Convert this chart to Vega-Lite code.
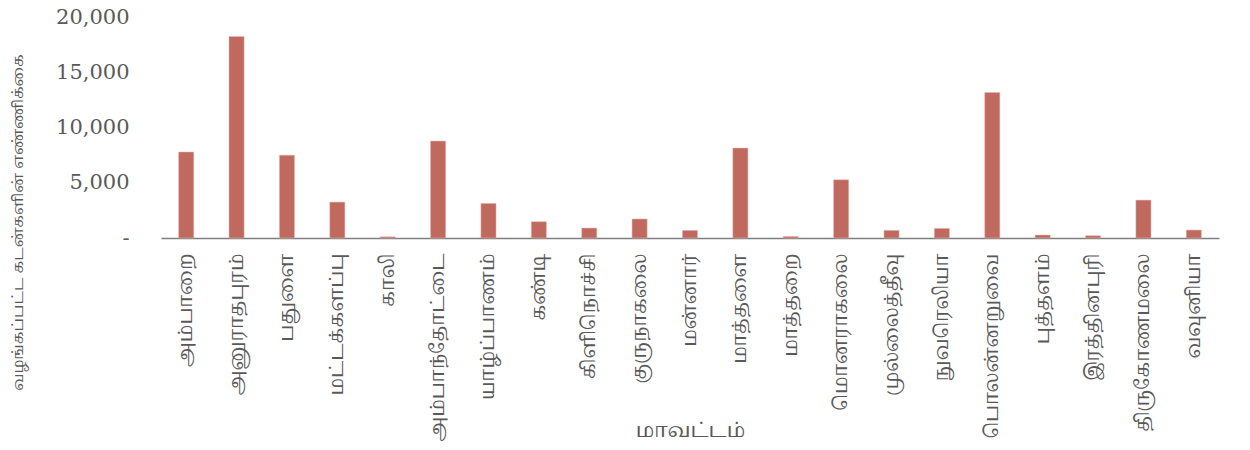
{
  "$schema": "https://vega.github.io/schema/vega-lite/v6.json",
  "autosize": "none",
  "width": 1058,
  "height": 221,
  "padding": {"left": 161, "top": 17, "right": 31, "bottom": 212},
  "background": "white",
  "config": {"view": {"stroke": null}},
  "data": {
    "values": [
      {"district": "அம்பாறை", "loans": 7780},
      {"district": "அனுராதபுரம்", "loans": 18230},
      {"district": "பதுளை", "loans": 7500},
      {"district": "மட்டக்களப்பு", "loans": 3250},
      {"district": "காலி", "loans": 110},
      {"district": "அம்பாந்தோட்டை", "loans": 8770},
      {"district": "யாழ்ப்பாணம்", "loans": 3130},
      {"district": "கண்டி", "loans": 1475},
      {"district": "கிளிநொச்சி", "loans": 900},
      {"district": "குருநாகலை", "loans": 1720},
      {"district": "மன்னார்", "loans": 690},
      {"district": "மாத்தளை", "loans": 8140},
      {"district": "மாத்தறை", "loans": 140},
      {"district": "மொனராகலை", "loans": 5270},
      {"district": "முல்லைத்தீவு", "loans": 690},
      {"district": "நுவரெலியா", "loans": 870},
      {"district": "பொலன்னறுவை", "loans": 13170},
      {"district": "புத்தளம்", "loans": 270},
      {"district": "இரத்தினபுரி", "loans": 210},
      {"district": "திருகோணமலை", "loans": 3430},
      {"district": "வவுனியா", "loans": 720}
    ]
  },
  "mark": {"type": "bar", "color": "#C0695F", "stroke": "#E8B8B2", "strokeWidth": 0.5},
  "encoding": {
    "x": {
      "field": "district",
      "type": "nominal",
      "sort": null,
      "scale": {"paddingInner": 0.7, "paddingOuter": 0.35},
      "axis": {
        "title": "மாவட்டம்",
        "titleFont": "Noto Serif Tamil, Noto Sans Tamil, Lohit Tamil, serif",
        "titleFontSize": 20,
        "titleFontWeight": "normal",
        "titleColor": "#595959",
        "titleY": 182,
        "labelAngle": -90,
        "labelAlign": "right",
        "labelBaseline": "middle",
        "labelPadding": 15,
        "labelFont": "Noto Serif Tamil, Noto Sans Tamil, Lohit Tamil, serif",
        "labelFontSize": 19,
        "labelColor": "#595959",
        "labelLimit": 0,
        "ticks": false,
        "domainColor": "#7F7F7F",
        "domainWidth": 1.5
      }
    },
    "y": {
      "field": "loans",
      "type": "quantitative",
      "scale": {"domain": [0, 20000], "nice": false},
      "axis": {
        "title": "வழங்கப்பட்ட  கடன்களின்  எண்ணிக்கை",
        "titleFont": "Noto Serif Tamil, Noto Sans Tamil, Lohit Tamil, serif",
        "titleFontSize": 15,
        "titleFontWeight": "normal",
        "titleColor": "#595959",
        "titleX": -136,
        "titleY": 205,
        "values": [0, 5000, 10000, 15000, 20000],
        "labelExpr": "datum.value == 0 ? '-\u00a0\u00a0' : format(datum.value, ',')",
        "labelFont": "DejaVu Serif",
        "labelFontSize": 21,
        "labelColor": "#595959",
        "labelPadding": 32,
        "ticks": false,
        "domain": false,
        "grid": false
      }
    }
  }
}
